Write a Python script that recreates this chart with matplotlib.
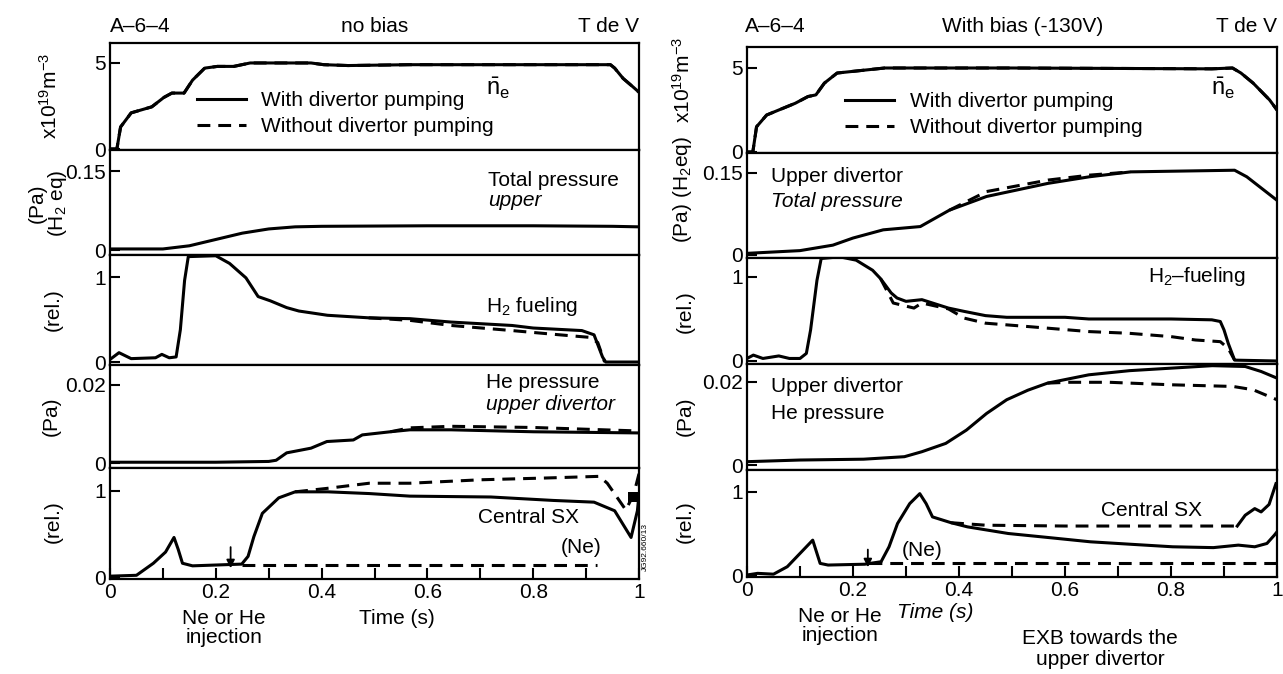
import matplotlib
matplotlib.use("Agg")
import matplotlib.pyplot as plt
from matplotlib import font_manager as fm

# ---------------- data ----------------
# left column: no bias
t_ne_L = [0, 0.013, 0.02, 0.04, 0.079, 0.102, 0.117, 0.14, 0.156, 0.179, 0.203, 0.234,
          0.265, 0.38, 0.404, 0.45, 0.567, 0.75, 0.946, 0.954, 0.97, 0.989, 1.0]
ne_L = [0, 0, 1.28, 2.1, 2.45, 3.0, 3.25, 3.25, 4.0, 4.7, 4.8, 4.8,
        5.0, 5.0, 4.9, 4.85, 4.9, 4.9, 4.9, 4.7, 4.1, 3.6, 3.3]

t_ptot_L = [0, 0.1, 0.15, 0.2, 0.25, 0.3, 0.35, 0.4, 0.6, 0.8, 0.95, 1.0]
ptot_L = [0.002, 0.002, 0.008, 0.02, 0.032, 0.040, 0.044, 0.045, 0.046, 0.046, 0.045, 0.044]

t_h2_L = [0, 0.017, 0.04, 0.086, 0.098, 0.112, 0.125, 0.133, 0.141, 0.148, 0.2, 0.226,
          0.257, 0.28, 0.303, 0.334, 0.357, 0.411, 0.489, 0.567, 0.645, 0.76, 0.80,
          0.892, 0.915, 0.931, 0.937, 1.0]
h2_L = [0.03, 0.11, 0.04, 0.05, 0.09, 0.05, 0.06, 0.38, 0.96, 1.24, 1.25, 1.16,
        0.99, 0.77, 0.72, 0.64, 0.60, 0.55, 0.52, 0.51, 0.47, 0.43, 0.40,
        0.37, 0.32, 0.06, 0.0, 0.0]
t_h2n_L = [0.489, 0.567, 0.645, 0.76, 0.85, 0.907, 0.922, 0.935]
h2n_L = [0.52, 0.49, 0.43, 0.37, 0.32, 0.29, 0.23, 0.0]

t_he_L = [0, 0.2, 0.3, 0.314, 0.334, 0.38, 0.41, 0.46, 0.477, 0.53, 0.567, 0.645, 0.8, 1.0]
he_L = [0.0002, 0.0002, 0.0004, 0.0007, 0.0026, 0.0038, 0.0055, 0.0059, 0.0072, 0.008,
        0.0085, 0.0085, 0.008, 0.0077]
t_hen_L = [0.53, 0.567, 0.645, 0.8, 1.0]
hen_L = [0.008, 0.009, 0.0094, 0.0091, 0.0082]

t_sx_L = [0, 0.05, 0.082, 0.105, 0.121, 0.129, 0.137, 0.156, 0.249, 0.261, 0.272, 0.288,
          0.319, 0.35, 0.412, 0.49, 0.567, 0.72, 0.838, 0.915, 0.954, 0.985, 0.997, 1.0]
sx_L = [0.01, 0.02, 0.16, 0.29, 0.46, 0.32, 0.16, 0.13, 0.15, 0.24, 0.47, 0.74,
        0.92, 0.99, 0.99, 0.97, 0.94, 0.93, 0.89, 0.87, 0.77, 0.46, 0.77, 0.96]
t_sxn_L = [0.35, 0.41, 0.49, 0.567, 0.70, 0.82, 0.925, 0.94, 0.975, 0.99, 1.0]
sxn_L = [0.99, 1.03, 1.09, 1.09, 1.13, 1.15, 1.17, 1.09, 0.78, 0.96, 1.2]
t_ne_trace_L = [0.25, 0.92]
ne_trace_L = [0.14, 0.14]
t_block_L = [0.98, 1.0]
block_lo_L = [0.87, 0.87]
block_hi_L = [0.99, 0.99]

# right column: with bias (-130V)
t_ne_R = [0, 0.011, 0.018, 0.037, 0.06, 0.091, 0.115, 0.13, 0.146, 0.17, 0.2, 0.26,
          0.5, 0.877, 0.916, 0.932, 0.955, 0.986, 1.0]
ne_R = [0, 0, 1.5, 2.2, 2.5, 2.9, 3.3, 3.4, 4.1, 4.7, 4.8, 5.0,
        5.0, 4.95, 5.0, 4.7, 4.1, 3.1, 2.5]

t_ptot_R = [0, 0.1, 0.162, 0.2, 0.257, 0.327, 0.382, 0.452, 0.568, 0.646, 0.724, 0.92, 0.943, 1.0]
ptot_R = [0.003, 0.008, 0.018, 0.031, 0.046, 0.052, 0.082, 0.107, 0.131, 0.143, 0.152,
          0.155, 0.143, 0.10]
t_ptotn_R = [0.382, 0.452, 0.568, 0.646, 0.724]
ptotn_R = [0.082, 0.116, 0.137, 0.146, 0.152]

t_h2_R = [0, 0.012, 0.03, 0.06, 0.08, 0.1, 0.112, 0.12, 0.132, 0.14, 0.175, 0.206, 0.237,
          0.252, 0.272, 0.283, 0.3, 0.33, 0.345, 0.38, 0.41, 0.45, 0.49, 0.6, 0.645, 0.8,
          0.877, 0.893, 0.9, 0.908, 0.92, 1.0]
h2_R = [0.03, 0.07, 0.03, 0.06, 0.03, 0.03, 0.09, 0.37, 0.96, 1.22, 1.24, 1.2, 1.08,
        0.98, 0.81, 0.75, 0.71, 0.73, 0.70, 0.63, 0.59, 0.54, 0.52, 0.52, 0.50, 0.50,
        0.49, 0.47, 0.37, 0.21, 0.01, 0.0]
t_h2n_R = [0.252, 0.276, 0.315, 0.33, 0.38, 0.41, 0.45, 0.53, 0.645, 0.72, 0.8, 0.846,
           0.893, 0.908, 0.92]
h2n_R = [0.98, 0.69, 0.63, 0.69, 0.62, 0.51, 0.45, 0.41, 0.35, 0.33, 0.29, 0.25,
         0.23, 0.15, 0.01]

t_he_R = [0, 0.1, 0.22, 0.297, 0.33, 0.375, 0.414, 0.452, 0.49, 0.53, 0.567, 0.645,
          0.722, 0.8, 0.878, 0.94, 0.97, 1.0]
he_R = [0.0008, 0.0012, 0.0014, 0.002, 0.0032, 0.0052, 0.0084, 0.0124, 0.0157, 0.018,
        0.0197, 0.0217, 0.0227, 0.0233, 0.0239, 0.0237, 0.0225, 0.0209]
t_hen_R = [0.567, 0.606, 0.684, 0.8, 0.917, 0.955, 1.0]
hen_R = [0.0197, 0.0199, 0.0199, 0.0193, 0.0189, 0.0181, 0.0157]

t_sx_R = [0, 0.02, 0.05, 0.076, 0.1, 0.124, 0.138, 0.153, 0.222, 0.253, 0.268, 0.284,
          0.307, 0.326, 0.338, 0.35, 0.385, 0.416, 0.493, 0.571, 0.648, 0.725, 0.803,
          0.88, 0.927, 0.958, 0.981, 0.995, 1.0]
sx_R = [0.0, 0.02, 0.01, 0.1, 0.26, 0.42, 0.14, 0.12, 0.13, 0.16, 0.34, 0.62,
        0.86, 0.98, 0.86, 0.70, 0.63, 0.58, 0.50, 0.45, 0.40, 0.37, 0.34,
        0.33, 0.36, 0.34, 0.38, 0.48, 0.52]
t_sxn_R = [0.385, 0.45, 0.6, 0.8, 0.925]
sxn_R = [0.63, 0.60, 0.59, 0.59, 0.59]
t_sxn_end_R = [0.925, 0.94, 0.958, 0.97, 0.985, 0.998]
sxn_end_R = [0.59, 0.72, 0.80, 0.76, 0.85, 1.1]
t_ne_trace_R = [0.23, 1.0]
ne_trace_R = [0.14, 0.14]

inj_time = 0.228

# ---------------- style ----------------
names = {f.name for f in fm.fontManager.ttflist}
if 'Liberation Sans Narrow' in names:
    FAM, FS = 'Liberation Sans Narrow', 18
else:
    FAM, FS = 'Liberation Sans', 15
plt.rcParams['font.family'] = [FAM, 'DejaVu Sans']
plt.rcParams['font.size'] = FS
plt.rcParams['mathtext.fontset'] = 'custom'
plt.rcParams['mathtext.rm'] = FAM
plt.rcParams['mathtext.it'] = FAM + ':italic'
plt.rcParams['mathtext.bf'] = FAM + ':bold'

LW = 2.2
DASH = (0, (4.2, 2.6))

W, H = 1283, 674
fig = plt.figure(figsize=(W / 100, H / 100), dpi=100)


def fx(px):
    return px / W


def fy(py):
    return 1 - py / H


def make_column(x0, width, rows, ylims, yticks, yticklabels):
    axes = []
    for i in range(5):
        top, bot = rows[i], rows[i + 1]
        ax = fig.add_axes([fx(x0), fy(bot), width / W, (bot - top) / H])
        ax.set_xlim(0, 1)
        ax.set_ylim(*ylims[i])
        ax.set_yticks(yticks[i])
        ax.set_yticklabels(yticklabels[i])
        ax.tick_params(axis='y', direction='in', length=7, width=1.5, pad=3)
        for s in ax.spines.values():
            s.set_linewidth(1.6)
        if i < 4:
            ax.set_xticks([])
        else:
            ax.set_xticks([0, 0.1, 0.2, 0.3, 0.4, 0.5, 0.6, 0.7, 0.8, 0.9, 1.0])
            ax.set_xticklabels(['0', '', '0.2', '', '0.4', '', '0.6', '', '0.8', '', '1'])
            ax.tick_params(axis='x', direction='in', length=8, width=1.5, pad=3)
        axes.append(ax)
    return axes


yticks = [[0, 5], [0, 0.15], [0, 1], [0, 0.02], [0, 1]]
yticklabels = [['0', '5'], ['0', '0.15'], ['0', '1'], ['0', '0.02'], ['0', '1']]

left_rows = [43, 150, 255, 365, 468, 579]
left_ylims = [(-0.058, 6.16), (-0.0095, 0.19), (-0.035, 1.259), (-0.00128, 0.0251), (-0.023, 1.267)]
right_rows = [47, 153, 258, 364, 470, 577]
right_ylims = [(-0.06, 6.25), (-0.0055, 0.1865), (-0.036, 1.226), (-0.0012, 0.0243), (-0.024, 1.265)]

L = make_column(110, 529, left_rows, left_ylims, yticks, yticklabels)
R = make_column(747, 530, right_rows, right_ylims, yticks, yticklabels)

kw_s = dict(color='black', lw=LW, solid_joinstyle='round')
kw_d = dict(color='black', lw=LW, linestyle=DASH)

# ---------------- left column ----------------
L[0].plot(t_ne_L, ne_L, **kw_d, label='Without divertor pumping')
L[0].plot(t_ne_L, ne_L, **kw_s, label='With divertor pumping')
L[1].plot(t_ptot_L, ptot_L, **kw_s)
L[2].plot(t_h2n_L, h2n_L, **kw_d)
L[2].plot(t_h2_L, h2_L, **kw_s)
L[3].plot(t_hen_L, hen_L, **kw_d)
L[3].plot(t_he_L, he_L, **kw_s)
L[4].plot(t_sxn_L, sxn_L, **kw_d)
L[4].plot(t_ne_trace_L, ne_trace_L, **kw_d)
L[4].plot(t_sx_L, sx_L, **kw_s)
L[4].fill_between(t_block_L, block_lo_L, block_hi_L, color='black', lw=0)

# ---------------- right column ----------------
R[0].plot(t_ne_R, ne_R, **kw_d, label='Without divertor pumping')
R[0].plot(t_ne_R, ne_R, **kw_s, label='With divertor pumping')
R[1].plot(t_ptotn_R, ptotn_R, **kw_d)
R[1].plot(t_ptot_R, ptot_R, **kw_s)
R[2].plot(t_h2n_R, h2n_R, **kw_d)
R[2].plot(t_h2_R, h2_R, **kw_s)
R[3].plot(t_hen_R, hen_R, **kw_d)
R[3].plot(t_he_R, he_R, **kw_s)
R[4].plot(t_sxn_R, sxn_R, **kw_d)
R[4].plot(t_sxn_end_R, sxn_end_R, **kw_s)
R[4].plot(t_ne_trace_R, ne_trace_R, **kw_d)
R[4].plot(t_sx_R, sx_R, **kw_s)

# legends
for ax, anchor in ((L[0], (0.164, 0.55)), (R[0], (0.185, 0.575))):
    h, lab = ax.get_legend_handles_labels()
    ax.legend([h[1], h[0]], [lab[1], lab[0]], loc='upper left', bbox_to_anchor=anchor,
              frameon=False, borderpad=0, borderaxespad=0, handlelength=2.35,
              handletextpad=0.75, labelspacing=0.35, fontsize=FS)

# panel annotations, left
L[0].text(0.711, 3.5, r'$\bar{\mathrm{n}}_\mathrm{e}$', va='center', fontsize=FS + 2)
L[1].text(0.714, 0.133, 'Total pressure', va='center')
L[1].text(0.714, 0.095, 'upper', va='center', style='italic')
L[2].text(0.71, 0.65, r'H$_2$ fueling', va='center')
L[3].text(0.71, 0.0205, 'He pressure', va='center')
L[3].text(0.71, 0.0149, 'upper divertor', va='center', style='italic')
L[4].text(0.695, 0.69, 'Central SX', va='center')
L[4].text(0.89, 0.34, '(Ne)', va='center', ha='center')
L[4].annotate('', xy=(inj_time, 0.07), xytext=(inj_time, 0.38),
              arrowprops=dict(arrowstyle='-|>', color='black', lw=1.3, mutation_scale=12))

# panel annotations, right
R[0].text(0.875, 3.8, r'$\bar{\mathrm{n}}_\mathrm{e}$', va='center', fontsize=FS + 2)
R[1].text(0.045, 0.143, 'Upper divertor', va='center')
R[1].text(0.045, 0.097, 'Total pressure', va='center', style='italic')
R[2].text(0.757, 1.0, r'H$_2$–fueling', va='center')
R[3].text(0.045, 0.0188, 'Upper divertor', va='center')
R[3].text(0.045, 0.0125, 'He pressure', va='center')
R[4].text(0.668, 0.78, 'Central SX', va='center')
R[4].text(0.33, 0.30, '(Ne)', va='center', ha='center')
R[4].annotate('', xy=(inj_time, 0.06), xytext=(inj_time, 0.34),
              arrowprops=dict(arrowstyle='-|>', color='black', lw=1.3, mutation_scale=12))

# headers
fig.text(fx(140), fy(26), 'A–6–4', ha='center', va='center')
fig.text(fx(375), fy(26), 'no bias', ha='center', va='center')
fig.text(fx(639), fy(26), 'T de V', ha='right', va='center')
fig.text(fx(775), fy(26), 'A–6–4', ha='center', va='center')
fig.text(fx(1023), fy(26), 'With bias (-130V)', ha='center', va='center')
fig.text(fx(1277), fy(26), 'T de V', ha='right', va='center')

# y labels, left
fig.text(fx(50), fy(96), r'x10$^{19}$m$^{-3}$', rotation=90, ha='center', va='center')
fig.text(fx(48), fy(203), '(Pa)\n' + r'(H$_2$ eq)', rotation=90, ha='center', va='center',
         multialignment='center', linespacing=0.95)
fig.text(fx(53), fy(310), '(rel.)', rotation=90, ha='center', va='center')
fig.text(fx(51), fy(416), '(Pa)', rotation=90, ha='center', va='center')
fig.text(fx(53), fy(522), '(rel.)', rotation=90, ha='center', va='center')

# y labels, right
fig.text(fx(683), fy(80), r'x10$^{19}$m$^{-3}$', rotation=90, ha='center', va='center')
fig.text(fx(683), fy(190), r'(Pa) (H$_2$eq)', rotation=90, ha='center', va='center')
fig.text(fx(685), fy(312), '(rel.)', rotation=90, ha='center', va='center')
fig.text(fx(685), fy(416), '(Pa)', rotation=90, ha='center', va='center')
fig.text(fx(685), fy(522), '(rel.)', rotation=90, ha='center', va='center')

# footer texts
fig.text(fx(224), fy(628), 'Ne or He\ninjection', ha='center', va='center', linespacing=1.0)
fig.text(fx(397), fy(618), 'Time (s)', ha='center', va='center')
fig.text(fx(840), fy(626), 'Ne or He\ninjection', ha='center', va='center', linespacing=1.0)
fig.text(fx(935), fy(612), 'Time (s)', ha='center', va='center', style='italic')
fig.text(fx(1100), fy(649), 'EXB towards the\nupper divertor', ha='center', va='center',
         linespacing=1.1)
fig.text(fx(645), fy(547), 'JG92.660/13', rotation=90, ha='center', va='center', fontsize=6)

fig.savefig('out.png', dpi=100)
